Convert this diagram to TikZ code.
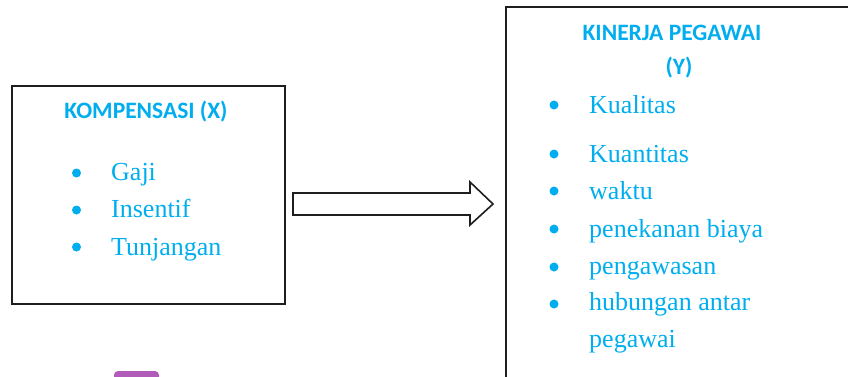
\documentclass[tikz,border=0pt]{standalone}
\usepackage{fontspec}
\setmainfont{Liberation Serif}
\newfontfamily\titlefont{Carlito}
\usetikzlibrary{calc}
\definecolor{txtblue}{HTML}{00AEEF}
\definecolor{boxline}{HTML}{1E1E1E}
\definecolor{tabpurple}{HTML}{B15CB8}
\tikzset{
  box/.style={draw=boxline, line width=2pt, fill=white, anchor=north west, inner sep=0pt, outer sep=0pt},
  boxtitle/.style={text=txtblue, font=\titlefont\bfseries\fontsize{23.5}{28}\selectfont, anchor=base, inner sep=0pt},
  item/.style={text=txtblue, font=\fontsize{26}{30}\selectfont, anchor=base west, inner sep=0pt},
  bullet/.style={fill=txtblue, draw=none, circle, minimum size=9pt, inner sep=0pt},
  blockarrow/.style={draw=boxline, line width=1.6pt, fill=white, line join=miter}
}
\begin{document}
\begin{tikzpicture}[x=1pt,y=-1pt]
\useasboundingbox (0,0) rectangle (848,376);
\clip (0,0) rectangle (848,376);
% boxes
\node[box, minimum width=273pt, minimum height=218pt] (L) at (12,86) {};
\node[box, line width=2.4pt, minimum width=400pt, minimum height=420pt] (R) at (506,7) {};
% left content
\node[boxtitle] (lt) at (146,118) {KOMPENSASI (X)};
\node[item] (l1) at (111,180) {Gaji};
\node[item] (l2) at (111,217) {Insentif};
\node[item] (l3) at (111,255) {Tunjangan};
\foreach \y/\n in {173/b1,210/b2,247/b3} \node[bullet] (\n) at (76.5,\y) {};
% right content
\node[boxtitle] (rt1) at (672,40) {KINERJA PEGAWAI};
\node[boxtitle] (rt2) at (679,74) {(Y)};
\node[item] (r1) at (589,113) {Kualitas};
\node[item] (r2) at (589,162) {Kuantitas};
\node[item] (r3) at (589,199) {waktu};
\node[item] (r4) at (589,237) {penekanan biaya};
\node[item] (r5) at (589,274) {pengawasan};
\node[item] (r6) at (589,310) {hubungan antar};
\node[item] (r7) at (589,347) {pegawai};
\foreach \y/\n in {105/c1,154/c2,191/c3,229/c4,267/c5,304/c6} \node[bullet] (\n) at (554,\y) {};
% block arrow from L to R
\coordinate (as) at ($(L.east |- 0,204)+(8,0)$);
\coordinate (at) at ($(R.west |- 0,204)+(-13,0)$);
\draw[blockarrow] ($(as)+(0,-11)$) -- ($(at)+(-23,-11)$) -- ($(at)+(-23,-22)$) -- (at)
  -- ($(at)+(-23,21)$) -- ($(at)+(-23,11)$) -- ($(as)+(0,11)$) -- cycle;
% purple tab at bottom
\fill[tabpurple, rounded corners=4pt] (114,371) rectangle (159,390);
\end{tikzpicture}
\end{document}
